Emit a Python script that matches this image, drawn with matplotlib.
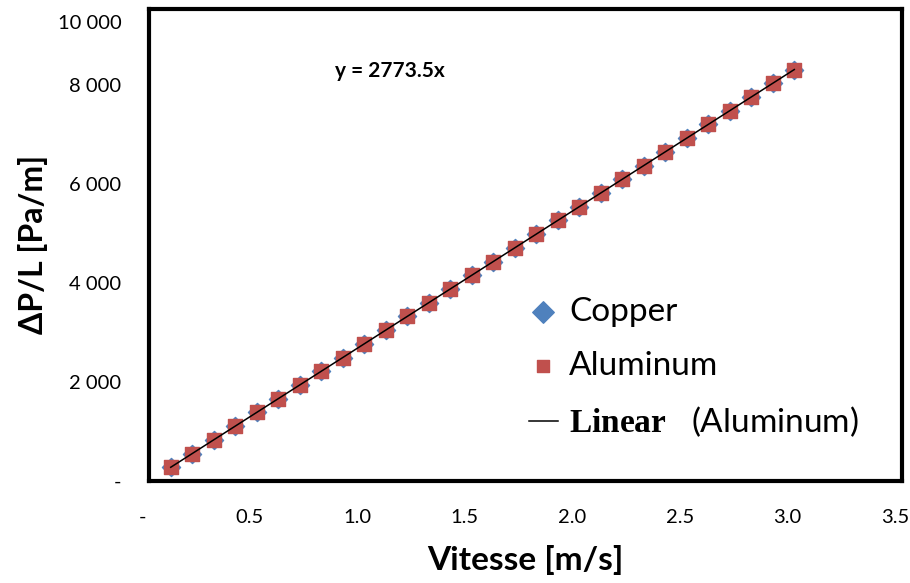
import numpy as np
import matplotlib
matplotlib.use("Agg")
import matplotlib.pyplot as plt
import matplotlib.transforms as mtransforms
from matplotlib.ticker import FixedLocator, FixedFormatter

plt.rcParams['font.family'] = ['Lato', 'DejaVu Sans']
plt.rcParams['mathtext.fontset'] = 'custom'
plt.rcParams['mathtext.bf'] = 'Liberation Serif:bold'

# velocity [m/s]
vitesse = [0.1, 0.2, 0.3, 0.4, 0.5, 0.6, 0.7, 0.8, 0.9, 1.0,
           1.1, 1.2, 1.3, 1.4, 1.5, 1.6, 1.7, 1.8, 1.9, 2.0,
           2.1, 2.2, 2.3, 2.4, 2.5, 2.6, 2.7, 2.8, 2.9, 3.0]
# pressure drop per length [Pa/m]
copper = [277, 555, 832, 1109, 1387, 1664, 1941, 2219, 2496, 2774,
          3051, 3328, 3606, 3883, 4160, 4438, 4715, 4992, 5270, 5547,
          5824, 6102, 6379, 6656, 6934, 7211, 7488, 7766, 8043, 8320]
aluminum = [277, 555, 832, 1109, 1387, 1664, 1942, 2219, 2496, 2774,
            3051, 3328, 3606, 3883, 4160, 4438, 4715, 4993, 5270, 5547,
            5824, 6102, 6379, 6656, 6934, 7211, 7488, 7766, 8043, 8321]

yticks = [0, 2000, 4000, 6000, 8000, 9290]
ylabels = ['-', '2 000', '4 000', '6 000', '8 000', '10 000']
xticks = [0, 0.5, 1.0, 1.5, 2.0, 2.5, 3.0, 3.5]
xlabels = ['-', '0.5', '1.0', '1.5', '2.0', '2.5', '3.0', '3.5']

x = np.array(vitesse)
al = np.array(aluminum)
slope = np.sum(x * al) / np.sum(x * x)  # trendline through origin

fig = plt.figure(figsize=(9.1, 5.83), dpi=100)
ax = fig.add_axes([0.164, 0.175, 0.827, 0.81])

ax.scatter(vitesse, copper, marker='D', s=85, color='#4F81BD', label='Copper', zorder=2)
ax.scatter(vitesse, aluminum, marker='s', s=95, color='#C0504D', label='Aluminum', zorder=3)
ax.plot([x[0], x[-1]], [slope * x[0], slope * x[-1]], color='black', lw=1.1,
        label=r'$\mathbf{Linear}$   (Aluminum)', zorder=4)

ax.text(0.865, 8300, 'y = %.1fx' % slope, fontsize=15, fontweight='bold', va='center')

ax.set_xlim(0, 3.5)
ax.set_ylim(0, 9550)
ax.xaxis.set_major_locator(FixedLocator(xticks))
ax.xaxis.set_major_formatter(FixedFormatter(xlabels))
ax.yaxis.set_major_locator(FixedLocator(yticks))
ax.yaxis.set_major_formatter(FixedFormatter(ylabels))
ax.tick_params(length=0, labelsize=14.5)
ax.tick_params(axis='x', pad=20)
ax.tick_params(axis='y', pad=20)
shift = mtransforms.ScaledTranslation(-7 / 100, 0, fig.dpi_scale_trans)
for lab in ax.get_xticklabels():
    lab.set_transform(lab.get_transform() + shift)

for s in ax.spines.values():
    s.set_linewidth(3)

ax.set_xlabel('Vitesse [m/s]', fontsize=24, fontweight='bold', labelpad=14)
ax.set_ylabel('ΔP/L [Pa/m]', fontsize=23, fontweight='bold', labelpad=7)

leg = ax.legend(loc='upper left', bbox_to_anchor=(0.505, 0.39), frameon=False,
                fontsize=24, handlelength=0.85, handletextpad=0.35, labelspacing=0.72,
                borderpad=0, borderaxespad=0)
leg.legend_handles[0].set_sizes([120])
leg.legend_handles[1].set_sizes([75])

fig.savefig('out.png', dpi=100)
